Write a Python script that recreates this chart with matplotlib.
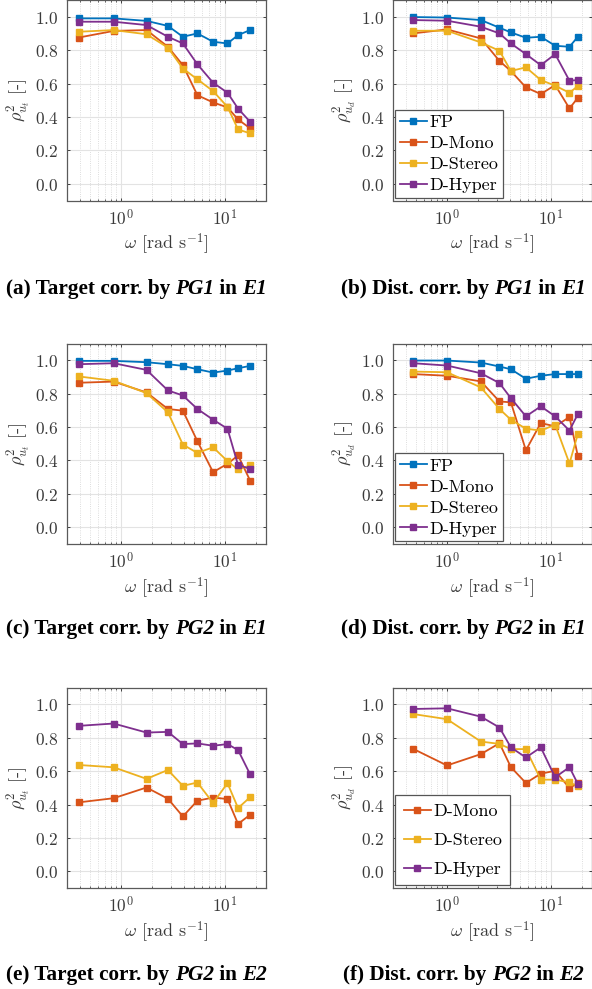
import numpy as np
import matplotlib
matplotlib.use("Agg")
import matplotlib.pyplot as plt
from matplotlib.ticker import FixedLocator, FuncFormatter, LogLocator, NullFormatter

plt.rcParams['mathtext.fontset'] = 'cm'
plt.rcParams['axes.unicode_minus'] = False

# excitation frequencies [rad/s]
w_left = [0.39, 0.85, 1.76, 2.83, 3.94, 5.44, 7.7, 10.6, 13.4, 17.5]
w_right = [0.47, 1.0, 2.12, 3.2, 4.12, 5.75, 8.0, 11.0, 15.1, 18.2]

# (a) target correlation, PG1, E1
a_fp     = [0.99, 0.99, 0.975, 0.945, 0.88, 0.90, 0.85, 0.84, 0.89, 0.92]
a_mono   = [0.875, 0.915, 0.92, 0.82, 0.71, 0.53, 0.487, 0.457, 0.385, 0.332]
a_stereo = [0.91, 0.92, 0.895, 0.815, 0.69, 0.625, 0.555, 0.46, 0.325, 0.302]
a_hyper  = [0.97, 0.97, 0.95, 0.88, 0.84, 0.715, 0.605, 0.545, 0.45, 0.371]

# (b) disturbance correlation, PG1, E1
b_fp     = [0.998, 0.995, 0.98, 0.934, 0.906, 0.874, 0.88, 0.826, 0.82, 0.88]
b_mono   = [0.90, 0.924, 0.87, 0.735, 0.675, 0.577, 0.537, 0.591, 0.451, 0.515]
b_stereo = [0.916, 0.916, 0.846, 0.796, 0.675, 0.697, 0.621, 0.587, 0.545, 0.585]
b_hyper  = [0.98, 0.976, 0.94, 0.90, 0.84, 0.776, 0.71, 0.776, 0.617, 0.621]

# (c) target correlation, PG2, E1
c_fp     = [0.996, 0.996, 0.988, 0.976, 0.966, 0.946, 0.926, 0.938, 0.952, 0.966]
c_mono   = [0.865, 0.872, 0.807, 0.708, 0.698, 0.515, 0.33, 0.38, 0.43, 0.28]
c_stereo = [0.903, 0.877, 0.803, 0.688, 0.495, 0.445, 0.479, 0.396, 0.346, 0.37]
c_hyper  = [0.976, 0.982, 0.942, 0.819, 0.789, 0.708, 0.644, 0.59, 0.372, 0.35]

# (d) disturbance correlation, PG2, E1
d_fp     = [0.998, 0.998, 0.986, 0.962, 0.946, 0.889, 0.907, 0.917, 0.917, 0.917]
d_mono   = [0.917, 0.907, 0.873, 0.753, 0.748, 0.461, 0.624, 0.604, 0.66, 0.425]
d_stereo = [0.932, 0.928, 0.837, 0.708, 0.644, 0.59, 0.579, 0.614, 0.382, 0.559]
d_hyper  = [0.982, 0.968, 0.922, 0.863, 0.773, 0.664, 0.724, 0.664, 0.579, 0.678]

# (e) target correlation, PG2, E2
e_mono   = [0.413, 0.438, 0.502, 0.435, 0.329, 0.423, 0.442, 0.433, 0.284, 0.339]
e_stereo = [0.637, 0.623, 0.554, 0.607, 0.512, 0.532, 0.409, 0.528, 0.379, 0.444]
e_hyper  = [0.871, 0.885, 0.831, 0.835, 0.762, 0.766, 0.752, 0.762, 0.726, 0.581]

# (f) disturbance correlation, PG2, E2
f_mono   = [0.734, 0.634, 0.702, 0.767, 0.624, 0.529, 0.585, 0.602, 0.499, 0.529]
f_stereo = [0.942, 0.911, 0.777, 0.763, 0.732, 0.732, 0.549, 0.549, 0.533, 0.509]
f_hyper  = [0.972, 0.976, 0.926, 0.861, 0.742, 0.682, 0.742, 0.563, 0.624, 0.523]

names = ['FP', 'D-Mono', 'D-Stereo', 'D-Hyper']
colors = {'FP': '#0072BD', 'D-Mono': '#D95319', 'D-Stereo': '#EDB120', 'D-Hyper': '#7E2F8E'}

captions = [
    ('(a)', 'Target', 'PG1', 'E1'),
    ('(b)', 'Dist.', 'PG1', 'E1'),
    ('(c)', 'Target', 'PG2', 'E1'),
    ('(d)', 'Dist.', 'PG2', 'E1'),
    ('(e)', 'Target', 'PG2', 'E2'),
    ('(f)', 'Dist.', 'PG2', 'E2'),
]

W, H = 592, 989
fig = plt.figure(figsize=(W / 100, H / 100), dpi=100)

ax_w = 199.5 / W
ax_h = 200.5 / H
col_x = [66.7 / W, 392.7 / W]
row_top = [0.0, 343.5, 687.6]

# (x, series, subscript of rho, legend label spacing or None)
panels = [
    (w_left,  [a_fp, a_mono, a_stereo, a_hyper], 't', None),
    (w_right, [b_fp, b_mono, b_stereo, b_hyper], 'd', 0.3),
    (w_left,  [c_fp, c_mono, c_stereo, c_hyper], 't', None),
    (w_right, [d_fp, d_mono, d_stereo, d_hyper], 'd', 0.3),
    (w_left,  [None, e_mono, e_stereo, e_hyper], 't', None),
    (w_right, [None, f_mono, f_stereo, f_hyper], 'd', 0.75),
]

gray = '#262626'
tick_gray = '#3a3a3a'

for i, (w, series, sub, legsp) in enumerate(panels):
    r, c = divmod(i, 2)
    bottom = 1 - (row_top[r] + 200.5) / H
    ax = fig.add_axes([col_x[c], bottom, ax_w, ax_h])
    for name, vals in zip(names, series):
        if vals is None:
            continue
        ax.plot(w, vals, '-s', color=colors[name], lw=1.3, ms=4.3,
                mec=colors[name], mfc=colors[name], label=name)
    ax.set_xscale('log')
    ax.set_xlim(0.3, 25)
    ax.set_ylim(-0.1, 1.1)
    ax.xaxis.set_major_locator(FixedLocator([1, 10]))
    ax.xaxis.set_major_formatter(FuncFormatter(lambda v, p: r'$10^{%d}$' % round(np.log10(v))))
    ax.xaxis.set_minor_locator(LogLocator(base=10, subs=np.arange(2, 10), numticks=20))
    ax.xaxis.set_minor_formatter(NullFormatter())
    ax.yaxis.set_major_locator(FixedLocator([0.0, 0.2, 0.4, 0.6, 0.8, 1.0]))
    ax.yaxis.set_major_formatter(FuncFormatter(lambda v, p: r'$%.1f$' % v))
    ax.grid(True, which='major', color='#e3e3e3', lw=0.8, ls='-')
    ax.grid(True, which='minor', axis='x', color='#d2d2d2', lw=0.6, ls=':')
    ax.set_axisbelow(True)
    ax.tick_params(which='major', direction='in', length=2.5, width=0.6,
                   color=gray, labelsize=12.5, labelcolor=tick_gray, pad=6)
    ax.tick_params(which='minor', direction='in', length=1.5, width=0.5, color=gray)
    ax.tick_params(top=True, right=True, which='both')
    for s in ax.spines.values():
        s.set_color('#5a5a5a')
        s.set_linewidth(0.9)
    ax.set_xlabel(r'$\omega$ [rad s$^{-1}$]', fontfamily='cmr10', fontsize=13,
                  color=tick_gray, labelpad=2)
    ax.set_ylabel(r'$\rho^2_{u_%s}$ [-]' % sub, fontfamily='cmr10', fontsize=13,
                  color=tick_gray, labelpad=1)
    if legsp is not None:
        leg = ax.legend(loc='lower left', prop={'family': 'cmr10', 'size': 13},
                        fancybox=False, framealpha=1, edgecolor='#555555',
                        borderaxespad=0.15, borderpad=0.25 if legsp < 0.5 else 0.45,
                        labelspacing=legsp, handlelength=1.5, handletextpad=0.15,
                        markerscale=0.85)
        leg.get_frame().set_linewidth(0.9)

# sub-captions: bold text with bold-italic identifiers
renderer = fig.canvas.get_renderer()
cap_cx = [136.5, 463.5]
cap_cy = [289, 629, 975]
for i, (lab, kind, pg, env) in enumerate(captions):
    r, c = divmod(i, 2)
    parts = [(f'{lab} {kind} corr. by ', 'normal'), (pg, 'italic'),
             (' in ', 'normal'), (env, 'italic')]
    items = []
    total = 0
    for s, st in parts:
        t = fig.text(0, 1 - cap_cy[r] / H, s, fontfamily='Liberation Serif',
                     fontweight='bold', fontstyle=st, fontsize=15.3, va='center', ha='left')
        wpx = t.get_window_extent(renderer).width
        items.append((t, wpx))
        total += wpx
    x = cap_cx[c] - total / 2
    for t, wpx in items:
        t.set_x(x / W)
        x += wpx

fig.savefig('out.png', dpi=100)
